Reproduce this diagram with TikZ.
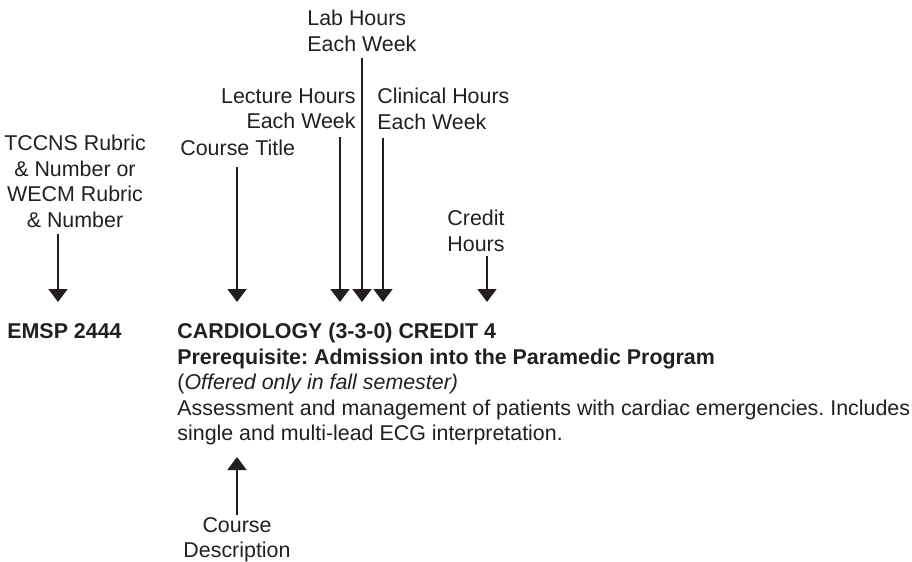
\documentclass[tikz,border=0pt]{standalone}
\usepackage{fontspec}
\setmainfont{Liberation Sans}
\usetikzlibrary{arrows.meta}
\definecolor{ink}{HTML}{231F20}
\frenchspacing
\begin{document}
\begin{tikzpicture}[x=0.5pt,y=-0.5pt,
  lbl/.style={inner sep=0pt,text=ink,font=\fontsize{10.7}{12.75}\selectfont},
  body/.style={lbl,align=left,anchor=north west},
  arr/.style={draw=ink,line width=1pt,-{Triangle[width=9.5pt,length=6.5pt]}},
  uparr/.style={draw=ink,line width=1pt,{Triangle[width=9.5pt,length=6.5pt]}-}]
\useasboundingbox[fill=white] (0,0) rectangle (912,562);
% labels
\node[lbl,align=left,anchor=north west] (lab) at (307,10) {Lab Hours\\Each Week};
\node[lbl,align=right,anchor=north east] (lect) at (356,88) {Lecture Hours\\Each Week};
\node[lbl,align=left,anchor=north west] (clin) at (377,88) {Clinical Hours\\Each Week};
\node[lbl,align=center,anchor=north] (tccns) at (75,135) {TCCNS Rubric\\\& Number or\\WECM Rubric\\\& Number};
\node[lbl,anchor=north west] (title) at (180,140) {Course Title};
\node[lbl,align=center,anchor=north] (credit) at (476,210) {Credit\\Hours};
% main text
\node[lbl,anchor=north west,font=\fontsize{10.7}{12.75}\selectfont\bfseries] (emsp) at (7,323) {EMSP 2444};
\node[body] (text) at (177,323) {\textbf{CARDIOLOGY (3-3-0) CREDIT 4}\\
\textbf{Prerequisite: Admission into the Paramedic Program}\\
(\textit{Offered only in fall semester)}\\
Assessment and management of patients with cardiac emergencies. Includes\\
single and multi-lead ECG interpretation.};
\node[lbl,align=center,anchor=north] (desc) at (237,517) {Course\\Description};
% arrow tips
\coordinate (t1) at (58,302);
\coordinate (t2) at (237,302);
\coordinate (t3) at (340,302);
\coordinate (t4) at (362,302);
\coordinate (t5) at (383,302);
\coordinate (t6) at (487,302);
\coordinate (t7) at (237,457);
% arrows
\draw[arr,shorten <=3pt] (tccns.south -| t1) -- (t1);
\draw[arr,shorten <=5pt] (title.south -| t2) -- (t2);
\draw[arr,shorten <=4pt] (lect.south -| t3) -- (t3);
\draw[arr,shorten <=3pt] (lab.south -| t4) -- (t4);
\draw[arr,shorten <=4pt] (clin.south -| t5) -- (t5);
\draw[arr,shorten <=2pt] (credit.south -| t6) -- (t6);
\draw[uparr,shorten >=1pt] (t7) -- (desc.north);
\end{tikzpicture}
\end{document}
